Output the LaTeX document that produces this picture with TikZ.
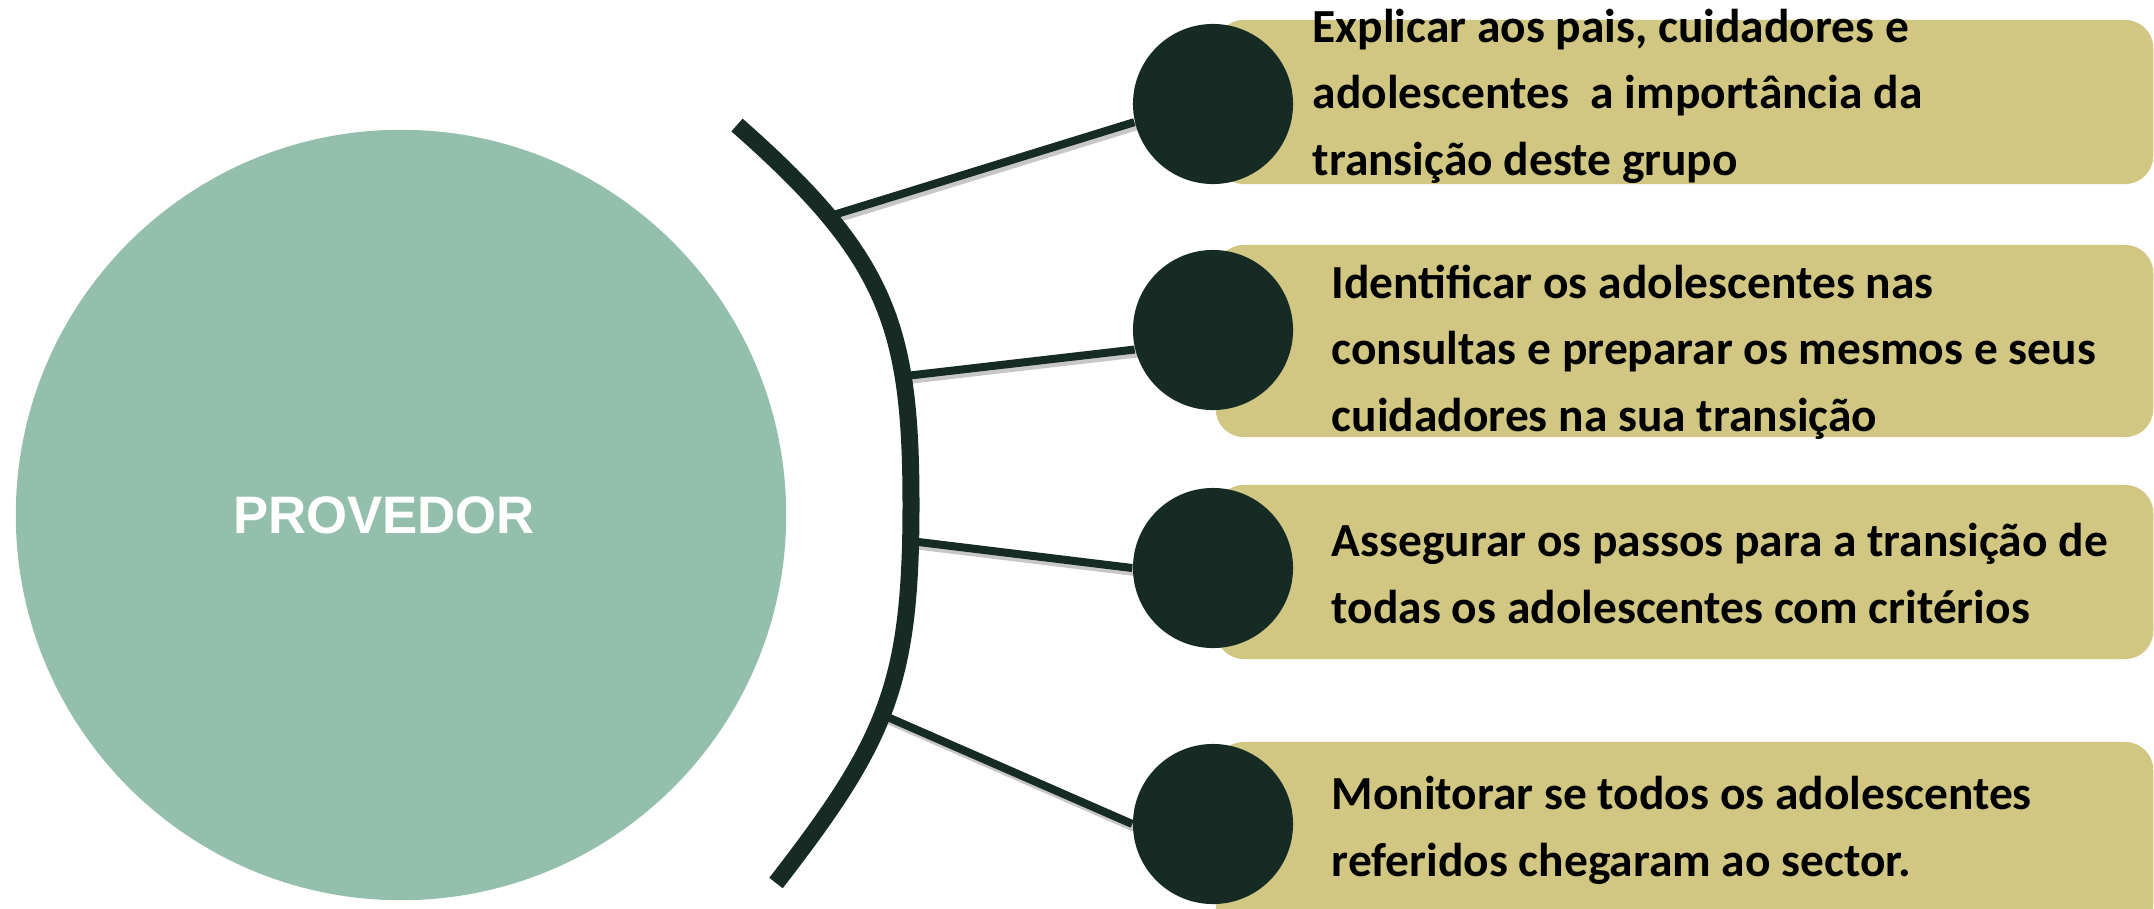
\documentclass[tikz,border=0pt]{standalone}
\usepackage{fontspec}
\setmainfont{Carlito}
\newfontfamily\headfont{Liberation Sans}
\usetikzlibrary{positioning,calc}

\definecolor{sage}{RGB}{149,191,173}
\definecolor{pine}{RGB}{21,43,36}
\definecolor{straw}{RGB}{209,199,130}

\pgfdeclarelayer{background}
\pgfsetlayers{background,main}

\tikzset{
  hub/.style={circle, fill=sage, minimum size=7.7cm, inner sep=0pt},
  hubtext/.style={text=white, inner sep=0pt,
    font=\headfont\bfseries\fontsize{15}{18}\selectfont},
  pinedot/.style={circle, fill=pine, minimum size=1.6cm, inner sep=0pt},
  band/.style={rectangle, rounded corners=0.28cm, fill=straw,
    minimum width=9.37cm, inner sep=0pt, anchor=north west},
  itemtext/.style={anchor=base west, inner sep=0pt, align=left,
    font=\bfseries\fontsize{13.5}{18.8}\selectfont},
  rim/.style={draw=pine, line width=0.17cm},
  link/.style={draw=pine, line width=0.08cm,
    preaction={draw=black!22, line width=0.08cm,
      transform canvas={shift={(0.025cm,-0.04cm)}}}},
}

\begin{document}
\begin{tikzpicture}[x=0.01cm, y=-0.01cm]
  \useasboundingbox (0,0) rectangle (2154,909);

  % central circle
  \node[hub] (prov) at (401,515) {};
  \node[hubtext] (provtext) at ($(prov)+(-17,0)$) {PROVEDOR};

  % bullets
  \node[pinedot] (d1) at (1213,104) {};
  \node[pinedot] (d2) at (1213,330) {};
  \node[pinedot] (d3) at (1213,568) {};
  \node[pinedot] (d4) at (1213,824) {};

  % bands behind the bullets
  \begin{pgfonlayer}{background}
    \node[band, minimum height=1.64cm] (b1) at ($(d1.north)+(2,-4)$) {};
    \node[band, minimum height=1.92cm] (b2) at ($(d2.north)+(2,-5)$) {};
    \node[band, minimum height=1.74cm] (b3) at ($(d3.north)+(2,-3)$) {};
    \node[band, minimum height=1.90cm] (b4) at ($(d4.north)+(2,-2)$) {};
  \end{pgfonlayer}

  % texts (anchored at last baseline)
  \node[itemtext] (t1) at ($(d1)+(99,71)$)
    {Explicar aos pais, cuidadores e\\adolescentes\ \ a importância da\\transição deste grupo};
  \node[itemtext] (t2) at ($(d2)+(118,101)$)
    {Identificar os adolescentes nas\\consultas e preparar os mesmos e seus\\cuidadores na sua transição};
  \node[itemtext] (t3) at ($(d3)+(118,55)$)
    {Assegurar os passos para a transição de\\todas os adolescentes com critérios};
  \node[itemtext] (t4) at ($(d4)+(118,52)$)
    {Monitorar se todos os adolescentes\\referidos chegaram ao sector.};

  % arc
  \draw[rim] (737,125) .. controls (887,257) and (911,325) .. (911,505)
      coordinate[pos=0.255] (j1) coordinate[pos=0.72] (j2)
    .. controls (911,685) and (886,741) .. (776,883)
      coordinate[pos=0.07] (j3) coordinate[pos=0.52] (j4);

  \begin{pgfonlayer}{background}
    \draw[link] (j1) -- (d1.193);
    \draw[link] (j2) -- (d2.194);
    \draw[link] (j3) -- (d3.west);
    \draw[link] (j4) -- (d4.west);
  \end{pgfonlayer}
\end{tikzpicture}
\end{document}
